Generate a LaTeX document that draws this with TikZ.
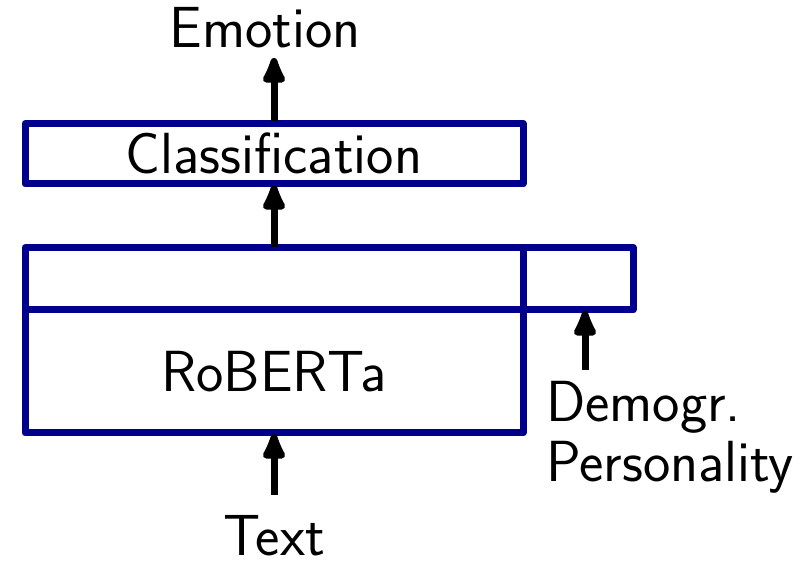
\documentclass[tikz,border=0pt]{standalone}
\usetikzlibrary{arrows.meta}
\definecolor{boxblue}{RGB}{0,0,140}
\begin{document}
\begin{tikzpicture}[x=1pt,y=-1pt,
  font=\sffamily\fontsize{58}{69}\selectfont,
  blk/.style={draw=boxblue,line width=7pt,line join=round,rectangle,inner sep=0pt,outer sep=0pt},
  lbl/.style={inner sep=0pt,outer sep=0pt},
  arr/.style={line width=7pt,-{Latex[length=34pt,width=28pt,round]},shorten >=1pt}]
\useasboundingbox (0,0) rectangle (812,561);
\node[blk,minimum width=498pt,minimum height=60.5pt] (cls) at (274,153.75) {Classification};
\node[blk,minimum width=498pt,minimum height=62.5pt] (top) at (274,278.75) {};
\node[blk,minimum width=110pt,minimum height=62.5pt] (small) at (578,278.75) {};
\node[blk,minimum width=498pt,minimum height=123pt] (rob) at (274,371.5) {RoBERTa};
\node[lbl,anchor=base] (emo) at (265,48) {Emotion};
\node[lbl,anchor=base] (txt) at (274,555) {Text};
\node[lbl,anchor=base west] (dem) at (546,422) {Demogr.};
\node[lbl,anchor=base west] (pers) at (546,482) {Personality};
\coordinate (emotail) at (274,121);
\coordinate (emotip) at (274,57);
\coordinate (txttail) at (274,495);
\coordinate (demtail) at (585,370);
\draw[arr] (emotail) -- (emotip);
\draw[arr] (top.north) -- (cls.south);
\draw[arr] (txttail) -- (rob.south);
\draw[arr] (demtail) -- (demtail |- small.south);
\end{tikzpicture}
\end{document}
